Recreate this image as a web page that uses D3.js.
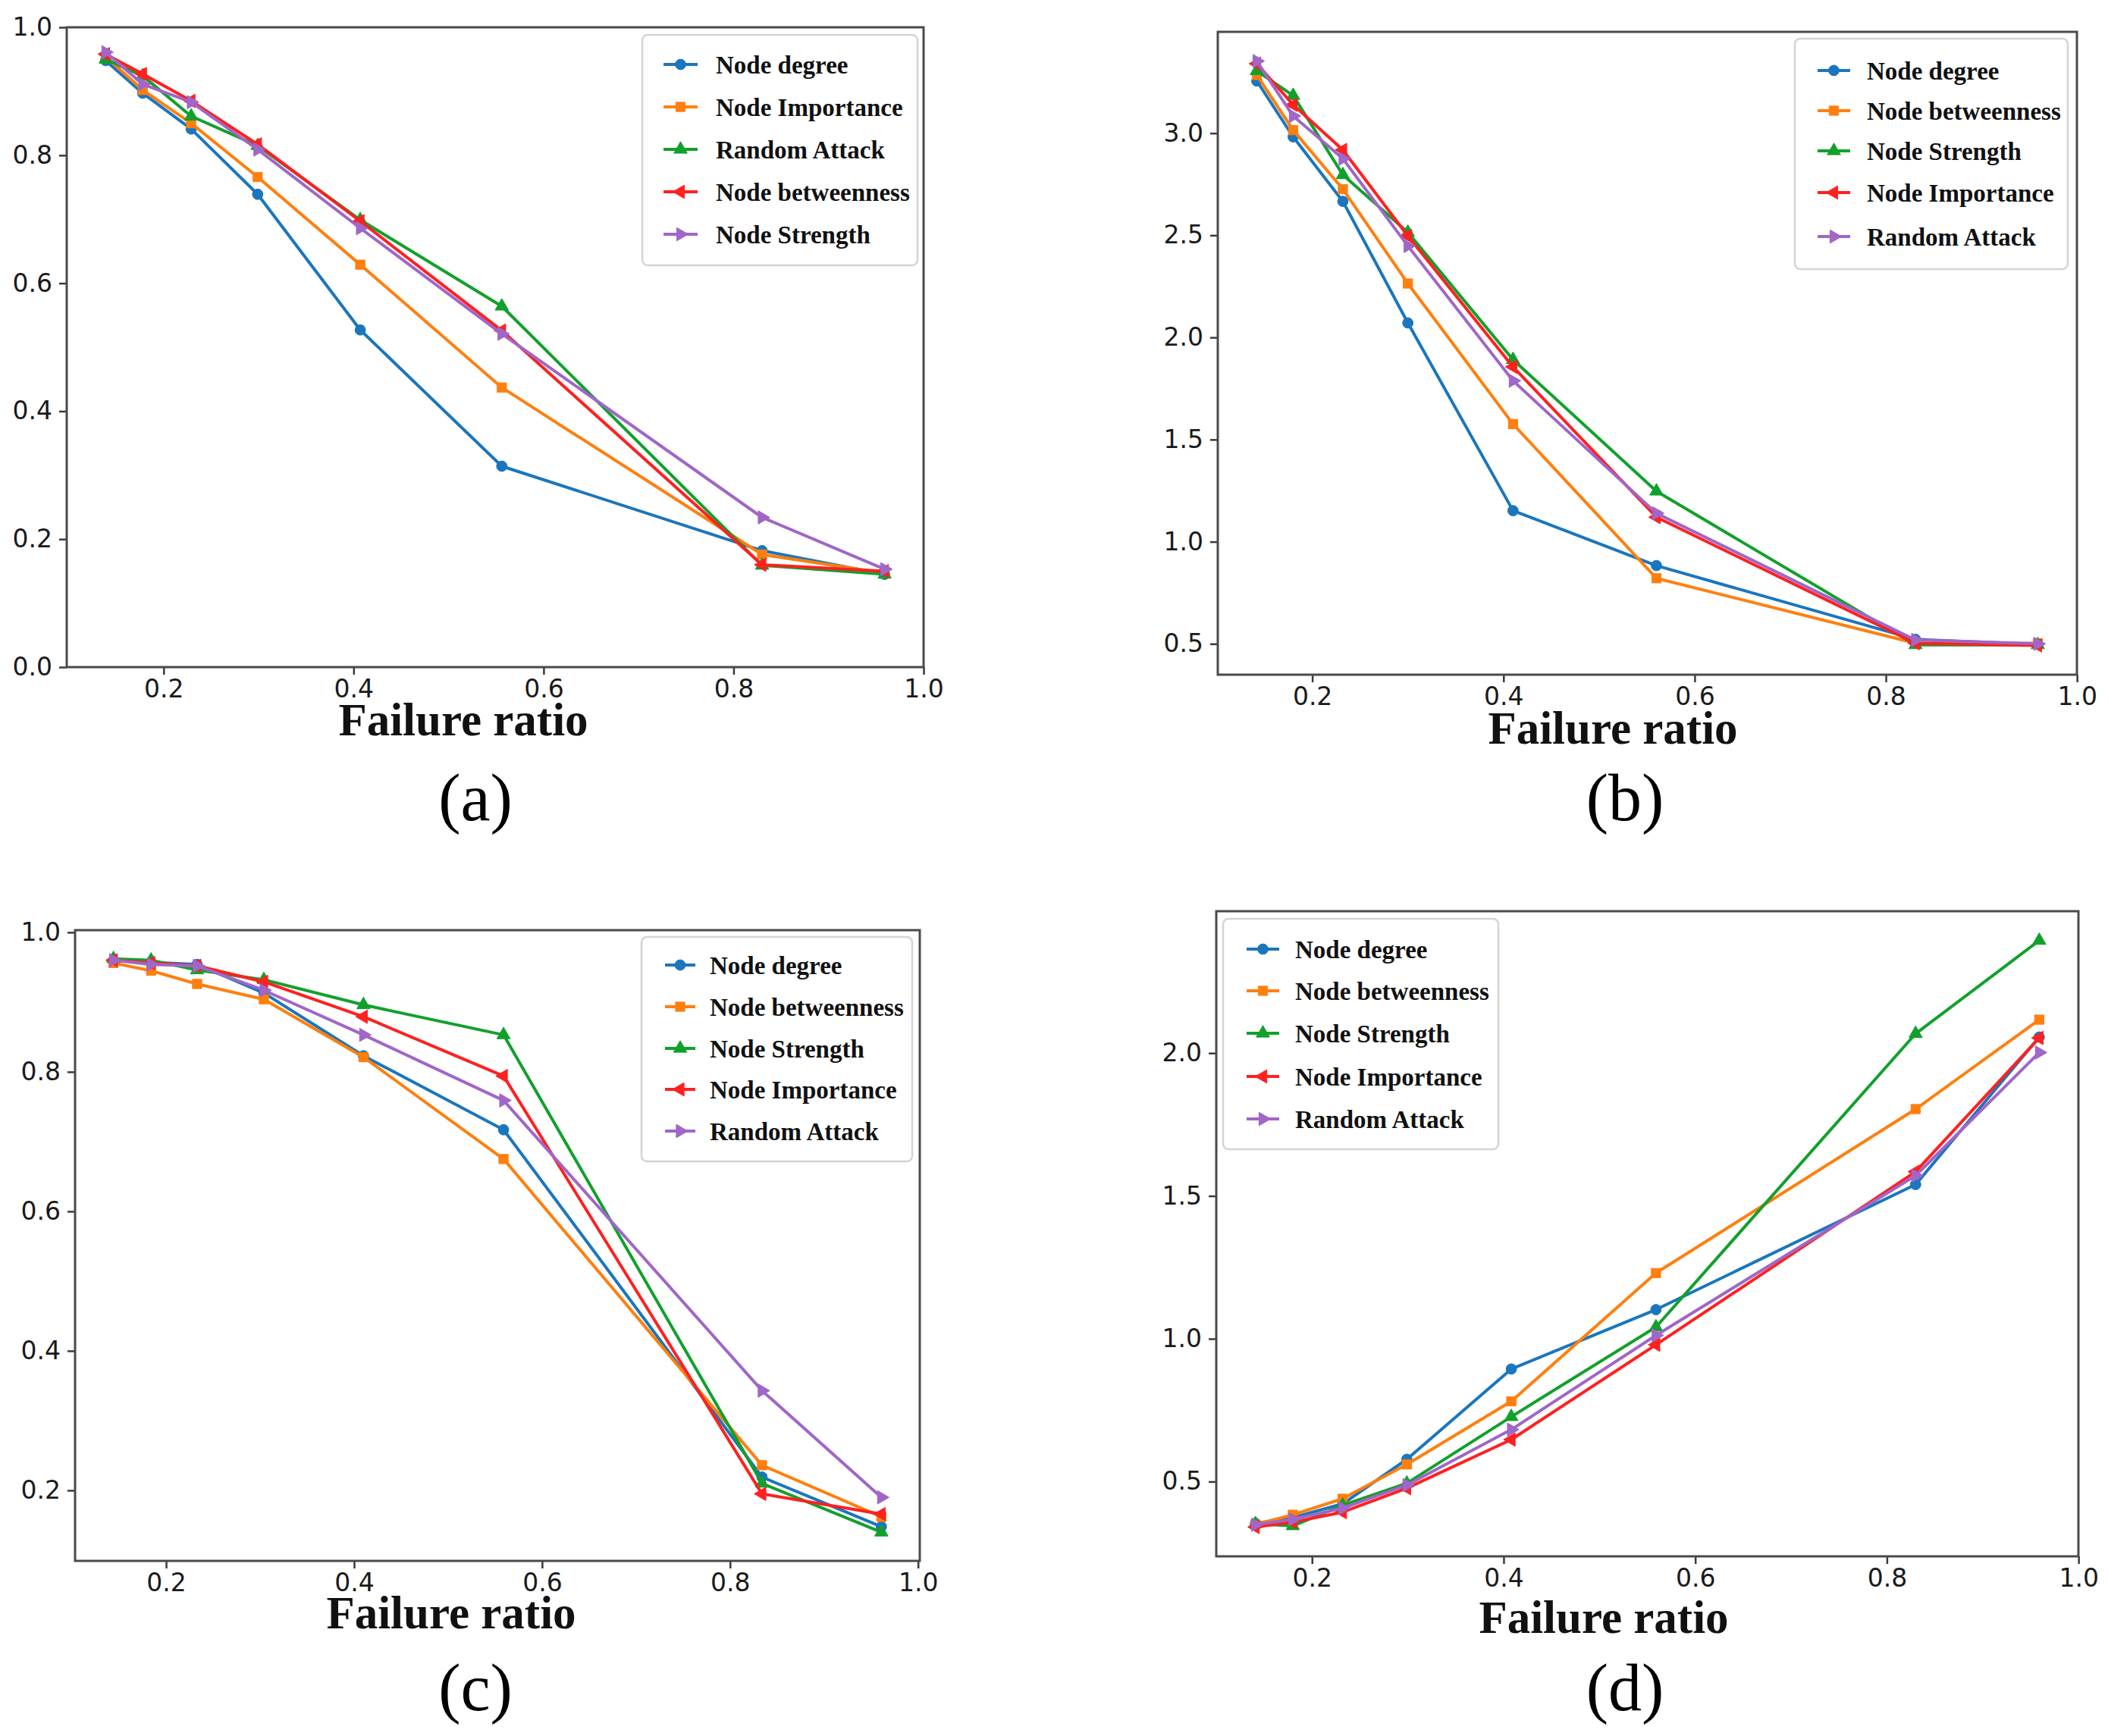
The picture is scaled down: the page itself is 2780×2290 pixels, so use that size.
<!DOCTYPE html>
<html>
<head>
<meta charset="utf-8">
<script src="https://cdn.jsdelivr.net/npm/d3@7/dist/d3.min.js"></script>
<style>
  html, body { margin: 0; padding: 0; background: #fff; }
  svg { display: block; }
</style>
</head>
<body>
<script>
// ---------------- DATA ----------------
const xTicks = [0.2, 0.4, 0.6, 0.8, 1.0];
const xAxisLabel = "Failure ratio";

// failure ratio positions (x) per panel
const xA = [0.139, 0.178, 0.229, 0.299, 0.407, 0.556, 0.830, 0.959];
const xB = [0.142, 0.180, 0.232, 0.300, 0.410, 0.560, 0.831, 0.959];
const xC = [0.144, 0.184, 0.233, 0.304, 0.410, 0.559, 0.834, 0.961];
const xD = [0.141, 0.180, 0.232, 0.299, 0.408, 0.559, 0.830, 0.959];

// legend labels
const namesA = ["Node degree", "Node Importance", "Random Attack", "Node betweenness", "Node Strength"];
const namesBCD = ["Node degree", "Node betweenness", "Node Strength", "Node Importance", "Random Attack"];

// panel (a)
const aNodeDegree      = [0.948, 0.897, 0.841, 0.739, 0.527, 0.314, 0.182, 0.145];
const aNodeImportance  = [0.954, 0.902, 0.850, 0.766, 0.629, 0.437, 0.176, 0.147];
const aRandomAttack    = [0.950, 0.924, 0.861, 0.815, 0.699, 0.564, 0.159, 0.145];
const aNodeBetweenness = [0.958, 0.927, 0.885, 0.817, 0.697, 0.526, 0.160, 0.150];
const aNodeStrength    = [0.961, 0.911, 0.883, 0.809, 0.686, 0.521, 0.234, 0.153];

// panel (b)
const bNodeDegree      = [3.255, 2.982, 2.666, 2.071, 1.152, 0.883, 0.522, 0.497];
const bNodeBetweenness = [3.285, 3.015, 2.726, 2.264, 1.576, 0.821, 0.503, 0.503];
const bNodeStrength    = [3.305, 3.184, 2.796, 2.514, 1.891, 1.247, 0.495, 0.495];
const bNodeImportance  = [3.340, 3.139, 2.918, 2.497, 1.856, 1.120, 0.503, 0.492];
const bRandomAttack    = [3.353, 3.084, 2.875, 2.448, 1.788, 1.139, 0.519, 0.500];

// panel (c)
const cNodeDegree      = [0.960, 0.957, 0.954, 0.913, 0.823, 0.717, 0.219, 0.148];
const cNodeBetweenness = [0.956, 0.945, 0.926, 0.904, 0.821, 0.675, 0.236, 0.162];
const cNodeStrength    = [0.962, 0.960, 0.946, 0.932, 0.896, 0.853, 0.210, 0.140];
const cNodeImportance  = [0.960, 0.956, 0.952, 0.929, 0.879, 0.794, 0.195, 0.166];
const cRandomAttack    = [0.960, 0.954, 0.952, 0.917, 0.853, 0.759, 0.343, 0.190];

// panel (d)
const dNodeDegree      = [0.354, 0.374, 0.422, 0.578, 0.894, 1.102, 1.540, 2.056];
const dNodeBetweenness = [0.350, 0.384, 0.440, 0.560, 0.781, 1.230, 1.804, 2.117];
const dNodeStrength    = [0.352, 0.345, 0.417, 0.494, 0.727, 1.041, 2.068, 2.394];
const dNodeImportance  = [0.341, 0.358, 0.393, 0.477, 0.647, 0.979, 1.585, 2.053];
const dRandomAttack    = [0.349, 0.368, 0.407, 0.488, 0.682, 1.012, 1.571, 2.002];

// y tick values
const yTicksA = [0.0, 0.2, 0.4, 0.6, 0.8, 1.0];
const yTicksB = [0.5, 1.0, 1.5, 2.0, 2.5, 3.0];
const yTicksC = [0.2, 0.4, 0.6, 0.8, 1.0];
const yTicksD = [0.5, 1.0, 1.5, 2.0];

const panelLetters = ["(a)", "(b)", "(c)", "(d)"];

// ---------------- STYLE ----------------
const colors  = ["#1a76bd", "#ff7f0e", "#12a02c", "#ff2020", "#a066c8"];
const markers = ["circle", "square", "up", "left", "right"];

const W = 2780, H = 2290;
const svg = d3.select("body").append("svg").attr("width", W).attr("height", H);
svg.append("rect").attr("width", W).attr("height", H).attr("fill", "#fff");

function pad(ext) { const m = (ext[1] - ext[0]) * 0.05; return [ext[0] - m, ext[1] + m]; }

const panels = [
  { x: xA, names: namesA, series: [aNodeDegree, aNodeImportance, aRandomAttack, aNodeBetweenness, aNodeStrength],
    yTicks: yTicksA, yFixed: [0, 1], yFmt: d3.format(".1f"),
    box: {L: 88, R: 1218, T: 36, B: 880},
    legend: {x0: 847, x1: 1210, y0: 46, y1: 350, rows: [85, 141, 197, 253, 309], h0: 875, h1: 920, tx: 944},
    label: {x: 611, y: 970}, letter: {x: 627, y: 1082} },
  { x: xB, names: namesBCD, series: [bNodeDegree, bNodeBetweenness, bNodeStrength, bNodeImportance, bRandomAttack],
    yTicks: yTicksB, yFixed: null, yFmt: d3.format(".1f"),
    box: {L: 1606, R: 2739, T: 42, B: 890},
    legend: {x0: 2367, x1: 2727, y0: 51, y1: 355, rows: [93, 146, 199, 254, 312], h0: 2397, h1: 2440, tx: 2462},
    label: {x: 2127, y: 981}, letter: {x: 2143, y: 1082} },
  { x: xC, names: namesBCD, series: [cNodeDegree, cNodeBetweenness, cNodeStrength, cNodeImportance, cRandomAttack],
    yTicks: yTicksC, yFixed: null, yFmt: d3.format(".1f"),
    box: {L: 99, R: 1213, T: 1227, B: 2059},
    legend: {x0: 846, x1: 1203, y0: 1236, y1: 1532, rows: [1273, 1328, 1383, 1437, 1492], h0: 877, h1: 917, tx: 936},
    label: {x: 595, y: 2148}, letter: {x: 627, y: 2256} },
  { x: xD, names: namesBCD, series: [dNodeDegree, dNodeBetweenness, dNodeStrength, dNodeImportance, dRandomAttack],
    yTicks: yTicksD, yFixed: null, yFmt: d3.format(".1f"),
    box: {L: 1604, R: 2741, T: 1202, B: 2053},
    legend: {x0: 1613, x1: 1976, y0: 1212, y1: 1516, rows: [1252, 1307, 1363, 1420, 1476], h0: 1644, h1: 1687, tx: 1708},
    label: {x: 2115, y: 2154}, letter: {x: 2143, y: 2256} }
];

function markerPath(type) {
  const sym = d3.symbol();
  if (type === "circle") return {d: sym.type(d3.symbolCircle).size(150)(), rot: 0};
  if (type === "square") return {d: sym.type(d3.symbolSquare).size(150)(), rot: 0};
  if (type === "up")     return {d: sym.type(d3.symbolTriangle).size(135)(), rot: 0};
  if (type === "left")   return {d: sym.type(d3.symbolTriangle).size(135)(), rot: -90};
  return {d: sym.type(d3.symbolTriangle).size(135)(), rot: 90};
}

function drawMarker(g, type, cx, cy, color) {
  const m = markerPath(type);
  g.append("path").attr("d", m.d)
    .attr("transform", `translate(${cx},${cy}) rotate(${m.rot})`)
    .attr("fill", color).attr("stroke", color).attr("stroke-width", 1);
}

panels.forEach((p, pi) => {
  const b = p.box;
  const allY = p.series.flat();
  const xs = d3.scaleLinear().domain(pad(d3.extent(p.x))).range([b.L, b.R]);
  const ys = d3.scaleLinear().domain(p.yFixed || pad(d3.extent(allY))).range([b.B, b.T]);

  const g = svg.append("g");

  // axes
  const xAxis = d3.axisBottom(xs).tickValues(xTicks).tickFormat(d3.format(".1f")).tickSize(10).tickPadding(7);
  const yAxis = d3.axisLeft(ys).tickValues(p.yTicks).tickFormat(p.yFmt).tickSize(10).tickPadding(9);
  const gx = g.append("g").attr("transform", `translate(0,${b.B})`).call(xAxis);
  const gy = g.append("g").attr("transform", `translate(${b.L},0)`).call(yAxis);
  [gx, gy].forEach(ax => {
    ax.select(".domain").remove();
    ax.selectAll(".tick line").attr("stroke", "#3a3a3a").attr("stroke-width", 2.5);
    ax.selectAll(".tick text").attr("fill", "#1a1a1a")
      .style("font-family", "'DejaVu Sans', sans-serif").style("font-size", "33px");
  });

  // lines + markers
  const line = d3.line().x((d, i) => xs(p.x[i])).y(d => ys(d));
  p.series.forEach((vals, si) => {
    g.append("path").datum(vals).attr("d", line)
      .attr("fill", "none").attr("stroke", colors[si]).attr("stroke-width", 4)
      .attr("stroke-linejoin", "round");
    vals.forEach((v, i) => drawMarker(g, markers[si], xs(p.x[i]), ys(v), colors[si]));
  });

  // frame
  g.append("rect").attr("x", b.L).attr("y", b.T).attr("width", b.R - b.L).attr("height", b.B - b.T)
    .attr("fill", "none").attr("stroke", "#4a4a4a").attr("stroke-width", 3);

  // legend
  const L = p.legend;
  g.append("rect").attr("x", L.x0).attr("y", L.y0).attr("width", L.x1 - L.x0).attr("height", L.y1 - L.y0)
    .attr("rx", 7).attr("fill", "#fff").attr("fill-opacity", 0.9)
    .attr("stroke", "#d4d4d4").attr("stroke-width", 2.5);
  p.names.forEach((nm, si) => {
    const yy = L.rows[si];
    g.append("line").attr("x1", L.h0).attr("x2", L.h1).attr("y1", yy).attr("y2", yy)
      .attr("stroke", colors[si]).attr("stroke-width", 4);
    drawMarker(g, markers[si], (L.h0 + L.h1) / 2, yy, colors[si]);
    g.append("text").attr("x", L.tx).attr("y", yy).attr("dy", "0.35em")
      .style("font-family", "'Liberation Serif', 'Times New Roman', serif")
      .style("font-weight", "bold").style("font-size", "33px")
      .attr("fill", "#111").text(nm);
  });

  // axis label
  g.append("text").attr("x", p.label.x).attr("y", p.label.y).attr("text-anchor", "middle")
    .style("font-family", "'Liberation Serif', 'Times New Roman', serif")
    .style("font-weight", "bold").style("font-size", "61px").attr("fill", "#111")
    .text(xAxisLabel);

  // panel letter
  g.append("text").attr("x", p.letter.x).attr("y", p.letter.y).attr("text-anchor", "middle")
    .style("font-family", "'Liberation Serif', 'Times New Roman', serif")
    .style("font-size", "88px").attr("fill", "#000")
    .text(panelLetters[pi]);
});
</script>
</body>
</html>
